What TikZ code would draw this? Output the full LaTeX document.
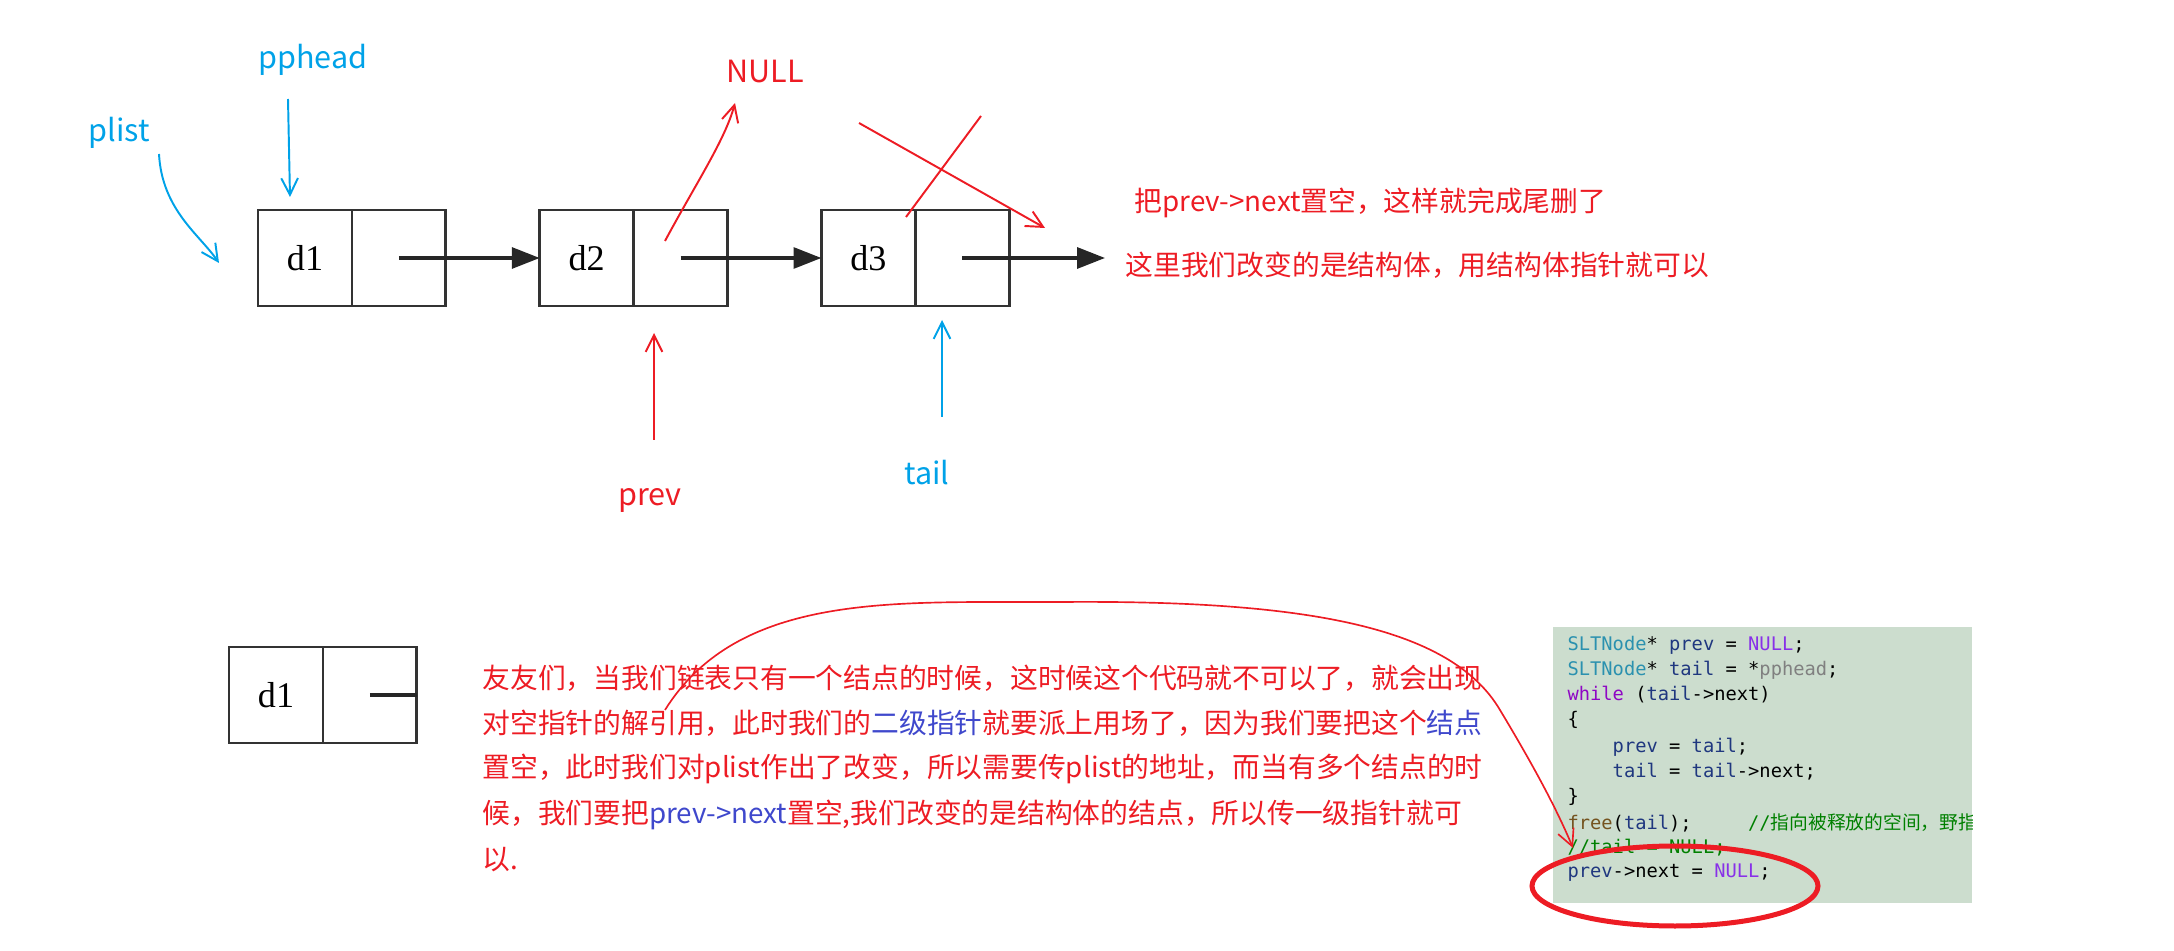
\documentclass[tikz,border=0pt]{standalone}
\usepackage{fontspec}
\setmainfont{Noto Sans CJK SC}
\setmonofont{DejaVu Sans Mono}
\newfontfamily\cjk{Noto Sans CJK SC}
\newfontfamily\boxfont{Liberation Serif}
\usetikzlibrary{arrows.meta,positioning,calc}
\definecolor{paintred}{RGB}{237,28,36}
\definecolor{paintblue}{RGB}{0,162,232}
\definecolor{textblue}{RGB}{63,72,204}
\definecolor{codebg}{RGB}{204,221,206}
\definecolor{vstype}{RGB}{43,145,175}
\definecolor{vsvar}{RGB}{31,55,127}
\definecolor{vsnull}{RGB}{136,48,232}
\definecolor{vskey}{RGB}{143,8,196}
\definecolor{vsfunc}{RGB}{116,83,31}
\definecolor{vscomment}{RGB}{0,128,0}
\definecolor{vsgray}{RGB}{128,128,128}
\tikzset{
  cell/.style={draw=black!80, line width=1pt, minimum width=33.8pt, minimum height=34.6pt,
    inner sep=0pt, outer sep=0pt, font=\boxfont\fontsize{13}{13}\selectfont},
  link/.style={line width=1.2pt, black!85, -{Triangle[length=10pt,width=7.5pt]}},
  redpen/.style={paintred, line width=0.7pt},
  bluepen/.style={paintblue, line width=0.7pt},
  barb/.style={-{Straight Barb[length=6pt,width=6pt]}},
  tag/.style={font=\fontsize{11}{12}\selectfont},
  para/.style={anchor=west, inner sep=0pt, text=paintred, font=\fontsize{10}{12}\selectfont},
  code/.style={anchor=west, inner sep=0pt, font=\ttfamily\fontsize{6.75}{9}\selectfont},
}
\begin{document}
\begin{tikzpicture}[x=0.36pt, y=-0.36pt]
\useasboundingbox (0,0) rectangle (2174,951);
% the list
\node[cell] (d1) at (305,258) {d1};
\node[cell, right=0pt of d1] (p1) {};
\node[cell, right=33.8pt of p1] (d2) {d2};
\node[cell, right=0pt of d2] (p2) {};
\node[cell, right=33.8pt of p2] (d3) {d3};
\node[cell, right=0pt of d3] (p3) {};
\coordinate (end3) at (1105,258);
\draw[link] (p1.center) -- (d2.west);
\draw[link] (p2.center) -- (d3.west);
\draw[link] (p3.center) -- (end3);
% pointer names
\node[tag, text=paintblue] (plist)  at (119,133) {plist};
\node[tag, text=paintblue] (pphead) at (313,60)  {pphead};
\node[tag, text=paintred]  (null)   at (765,72)  {NULL};
\node[tag, text=paintred]  (prev)   at (650,500) {prev};
\node[tag, text=paintblue] (tail)   at (927,473) {tail};
\coordinate (plist0) at (159,154);   \coordinate (plisttip) at (219,263);
\coordinate (pph0) at (288,99);      \coordinate (pphtip) at (290,197);
\coordinate (null0) at (665,241);    \coordinate (nulltip) at (735,103);
\coordinate (prev0) at (654,440);    \coordinate (prevtip) at (654,333);
\coordinate (tail0) at (942,417);    \coordinate (tailtip) at (942,320);
\draw[bluepen, barb] (plist0) .. controls (162,210) and (200,235) .. (plisttip);
\draw[bluepen, barb] (pph0) -- (pphtip);
\draw[redpen, barb] (null0) .. controls (695,185) and (725,140) .. (nulltip);
\draw[redpen, barb] (prev0) -- (prevtip);
\draw[bluepen, barb] (tail0) -- (tailtip);
% crossing out the last link
\coordinate (xa1) at (859,123);  \coordinate (xb1) at (1045,228);
\coordinate (xa2) at (981,116);  \coordinate (xb2) at (906,217);
\draw[redpen, barb] (xa1) -- (xb1);
\draw[redpen] (xa2) -- (xb2);
\node[para] (note1) at (1134,203) {把prev->next置空，这样就完成尾删了};
\node[para] (note2) at (1125,265) {这里我们改变的是结构体，用结构体指针就可以};
% one node only
\node[cell] (b1) at (276,695) {d1};
\node[cell, right=0pt of b1] (bp1) {};
\draw[line width=1.2pt, black!85] (bp1.center) -- (bp1.east);
\node[para] (para1) at (482,678) {友友们，当我们链表只有一个结点的时候，这时候这个代码就不可以了，就会出现};
\node[para] (para2) at (482,723.5) {对空指针的解引用，此时我们的\textcolor{textblue}{二级指针}就要派上用场了，因为我们要把这个\textcolor{textblue}{结点}};
\node[para] (para3) at (482,769) {置空，此时我们对plist作出了改变，所以需要传plist的地址，而当有多个结点的时};
\node[para] (para4) at (482,814.5) {候，我们要把\textcolor{textblue}{prev->next}置空,我们改变的是结构体的结点，所以传一级指针就可};
\node[para] (para5) at (482,860) {以.};
% code
\fill[codebg] (1553,627) rectangle (1972,903);
\begin{scope}
\clip (1553,627) rectangle (1972,903);
\node[code] (c1) at (1567,645) {\textcolor{vstype}{SLTNode}* \textcolor{vsvar}{prev} = \textcolor{vsnull}{NULL};};
\node[code] (c2) at (1567,670) {\textcolor{vstype}{SLTNode}* \textcolor{vsvar}{tail} = *\textcolor{vsgray}{pphead};};
\node[code] (c3) at (1567,695) {\textcolor{vskey}{while} (\textcolor{vsvar}{tail}->next)};
\node[code] (c4) at (1567,720) {\{};
\node[code] (c5) at (1567,747) {\hphantom{xxxx}\textcolor{vsvar}{prev} = \textcolor{vsvar}{tail};};
\node[code] (c6) at (1567,772) {\hphantom{xxxx}\textcolor{vsvar}{tail} = \textcolor{vsvar}{tail}->next;};
\node[code] (c7) at (1567,797) {\}};
\node[code] (c8) at (1567,823) {\textcolor{vsfunc}{free}(\textcolor{vsvar}{tail});\hphantom{xxxxx}\textcolor{vscomment}{//{\cjk 指向被释放的空间，野指针}}};
\node[code] (c9) at (1567,848) {\textcolor{vscomment}{//tail = NULL;}};
\node[code] (c10) at (1567,873) {\textcolor{vsvar}{prev}->next = \textcolor{vsnull}{NULL};};
\end{scope}
\draw[paintred, line width=1.8pt] (1675,886) ellipse [x radius=143, y radius=40];
% long arrow from the text to the code
\coordinate (curvestart) at (665,710);
\coordinate (curveend) at (1573,848);
\draw[paintred, line width=0.6pt, barb] (curvestart) .. controls (740,590) and (900,603) .. (1060,602)
  .. controls (1300,600) and (1450,625) .. (1500,710) .. controls (1530,760) and (1555,805) .. (curveend);
\end{tikzpicture}
\end{document}
